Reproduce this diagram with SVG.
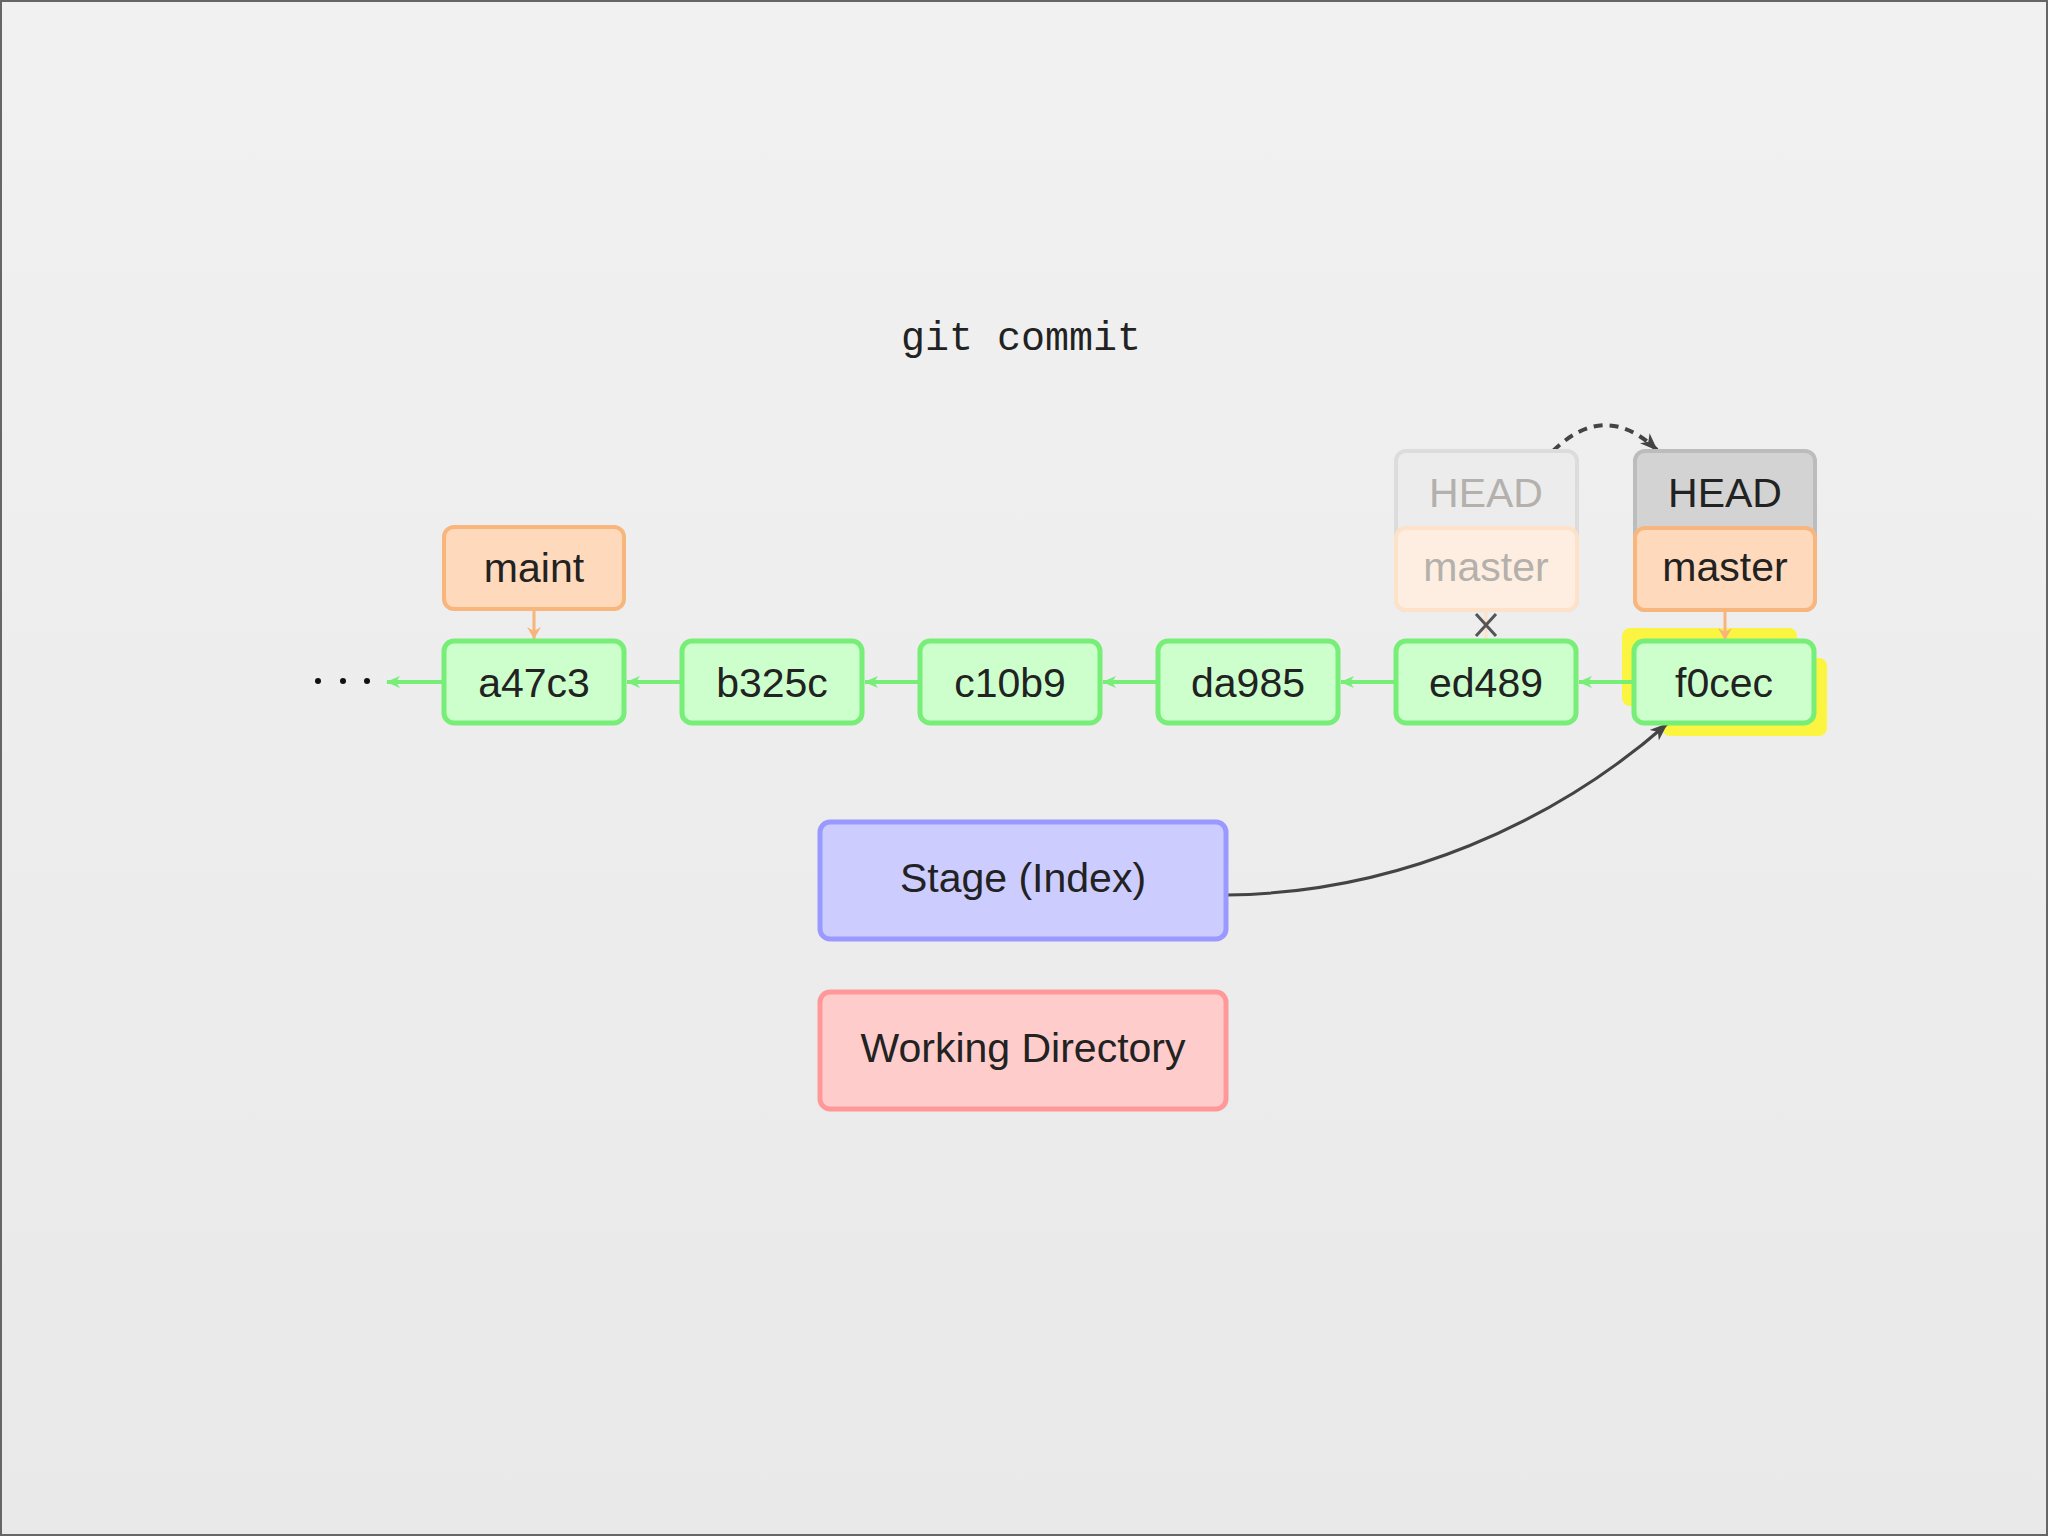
<svg xmlns="http://www.w3.org/2000/svg" width="2048" height="1536" viewBox="0 0 2048 1536">
<defs>
<linearGradient id="bg" x1="0" y1="0" x2="0" y2="1">
<stop offset="0" stop-color="#f1f1f1"/>
<stop offset="1" stop-color="#e9e9e9"/>
</linearGradient>
<marker id="ag" viewBox="0 0 14 12" refX="13" refY="6" markerWidth="14" markerHeight="12" markerUnits="userSpaceOnUse" orient="auto">
<path d="M0,0 L14,6 L0,12 L4,6 z" fill="#77ee77"/>
</marker>
<marker id="ao" viewBox="0 0 12 14" refX="12" refY="7" markerWidth="12" markerHeight="14" markerUnits="userSpaceOnUse" orient="auto">
<path d="M0,0 L12,7 L0,14 L4,7 z" fill="#f7b47c"/>
</marker>
<marker id="ad" viewBox="0 0 18 14" refX="17" refY="7" markerWidth="18" markerHeight="14" markerUnits="userSpaceOnUse" orient="auto">
<path d="M0,0 L18,7 L0,14 L5,7 z" fill="#444444"/>
</marker>
</defs>
<style>
text{font-family:"Liberation Sans",Arial,sans-serif;font-size:41px;fill:#222;text-anchor:middle}
.mono{font-family:"Liberation Mono","Courier New",monospace;font-size:40px}
.commit{fill:#ccffcc;stroke:#77ee77;stroke-width:5}
.branch{fill:#fed9bb;stroke:#f8b57c;stroke-width:4}
.head{fill:#d3d3d3;stroke:#bcbcbc;stroke-width:4}
.ghead{fill:#ececec;stroke:#dcdcdc;stroke-width:4}
.gbranch{fill:#fdeee1;stroke:#fde1c9;stroke-width:4}
.gtext{fill:#b4b0ac}
.stage{fill:#ccccff;stroke:#9999ff;stroke-width:5}
.wd{fill:#ffcccc;stroke:#ff9999;stroke-width:5}
.gl{stroke:#77ee77;stroke-width:4;fill:none;marker-end:url(#ag)}
.ol{stroke:#f7b47c;stroke-width:3;fill:none;marker-end:url(#ao)}
</style>
<rect x="0" y="0" width="2048" height="1536" fill="url(#bg)"/>
<rect x="1" y="1" width="2046" height="1534" fill="none" stroke="#666" stroke-width="2"/>
<text class="mono" x="1021" y="350">git commit</text>

<g id="highlight">
<rect x="1622" y="628" width="175" height="78" rx="8" fill="#fbf542"/>
<rect x="1662" y="658" width="165" height="78" rx="8" fill="#fbf542"/>
</g>

<g id="connectors">
<line class="gl" x1="444" y1="682" x2="387" y2="682"/>
<line class="gl" x1="682" y1="682" x2="627" y2="682"/>
<line class="gl" x1="920" y1="682" x2="865" y2="682"/>
<line class="gl" x1="1158" y1="682" x2="1103" y2="682"/>
<line class="gl" x1="1396" y1="682" x2="1341" y2="682"/>
<line class="gl" x1="1634" y1="682" x2="1579" y2="682"/>
<line class="ol" x1="534" y1="609" x2="534" y2="639"/>
<line x1="1486" y1="610" x2="1486" y2="641" stroke="#fde1c9" stroke-width="3"/>
<line class="ol" x1="1725" y1="610" x2="1725" y2="640"/>
<path d="M1476,614 L1496,636 M1496,614 L1476,636" stroke="#555" stroke-width="3" fill="none"/>
<path d="M1553,451 Q1605,400 1657,450" stroke="#444" stroke-width="4" stroke-dasharray="9,7" fill="none" marker-end="url(#ad)"/>
<path d="M1227,895 C1400,893 1555,822 1667,724" stroke="#444" stroke-width="3" fill="none" marker-end="url(#ad)"/>
</g>

<g id="dots" fill="#111">
<circle cx="318" cy="681" r="3"/>
<circle cx="343" cy="681" r="3"/>
<circle cx="367" cy="681" r="3"/>
</g>

<g id="maint">
<rect class="branch" x="444" y="527" width="180" height="82" rx="10"/>
<text x="534" y="582">maint</text>
</g>

<g id="head-old">
<rect class="ghead" x="1396" y="451" width="181" height="159" rx="10"/>
<text class="gtext" x="1486" y="507">HEAD</text>
</g>
<g id="master-old">
<rect class="gbranch" x="1396" y="528" width="181" height="82" rx="10"/>
<text class="gtext" x="1486" y="581">master</text>
</g>

<g id="head">
<rect class="head" x="1635" y="451" width="180" height="159" rx="10"/>
<text x="1725" y="507">HEAD</text>
</g>
<g id="master">
<rect class="branch" x="1635" y="528" width="180" height="82" rx="10"/>
<text x="1725" y="581">master</text>
</g>

<g id="a47c3">
<rect class="commit" x="444" y="641" width="180" height="82" rx="10"/>
<text x="534" y="697">a47c3</text>
</g>
<g id="b325c">
<rect class="commit" x="682" y="641" width="180" height="82" rx="10"/>
<text x="772" y="697">b325c</text>
</g>
<g id="c10b9">
<rect class="commit" x="920" y="641" width="180" height="82" rx="10"/>
<text x="1010" y="697">c10b9</text>
</g>
<g id="da985">
<rect class="commit" x="1158" y="641" width="180" height="82" rx="10"/>
<text x="1248" y="697">da985</text>
</g>
<g id="ed489">
<rect class="commit" x="1396" y="641" width="180" height="82" rx="10"/>
<text x="1486" y="697">ed489</text>
</g>
<g id="f0cec">
<rect class="commit" x="1634" y="641" width="180" height="82" rx="10"/>
<text x="1724" y="697">f0cec</text>
</g>

<g id="stage">
<rect class="stage" x="820" y="822" width="406" height="117" rx="10"/>
<text x="1023" y="892" font-size="42">Stage (Index)</text>
</g>
<g id="working-directory">
<rect class="wd" x="820" y="992" width="406" height="117" rx="10"/>
<text x="1023" y="1062" font-size="42">Working Directory</text>
</g>
</svg>
